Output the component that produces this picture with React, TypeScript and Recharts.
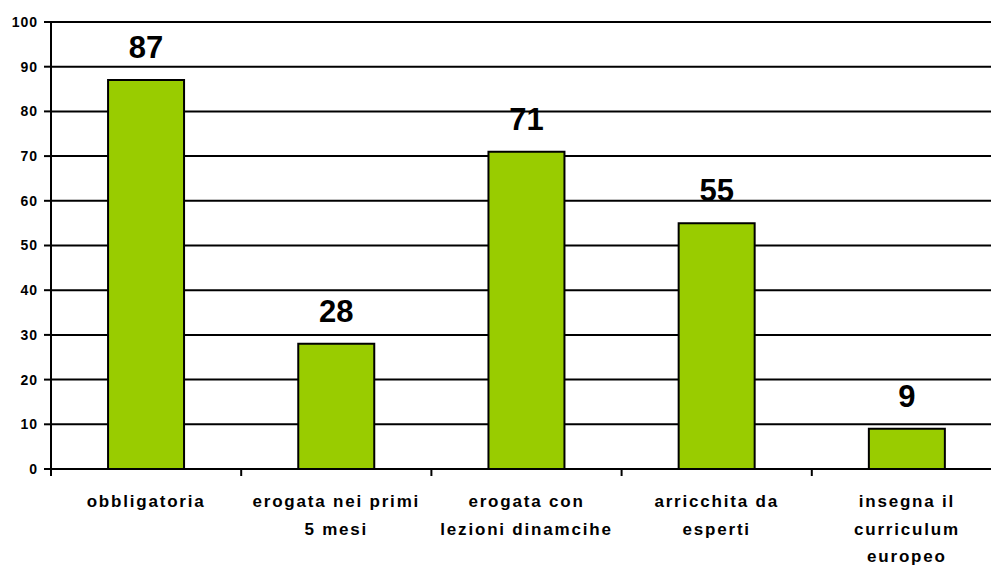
import { BarChart, Bar, XAxis, YAxis, CartesianGrid, LabelList } from "recharts";

const categories = [
  "obbligatoria",
  "erogata nei primi\n5 mesi",
  "erogata con\nlezioni dinamcihe",
  "arricchita da\nesperti",
  "insegna il\ncurriculum\neuropeo",
];
const values = [87, 28, 71, 55, 9];
const yTicks = [0, 10, 20, 30, 40, 50, 60, 70, 80, 90, 100];

const data = categories.map((name, i) => ({ name, value: values[i] }));

const W = 1010;
const H = 566;
const M = { top: 22, right: 8, left: 0, bottom: 0 };
const Y_W = 51;
const BAND = (W - M.left - M.right - Y_W) / categories.length;
const FONT = "'Liberation Sans', Arial, sans-serif";

// Excel-style category axis: tick marks sit between categories, not under them
function CatTick({ x, y, payload }: any) {
  const lines = String(payload.value).split("\n");
  return (
    <g>
      <line x1={x - BAND / 2} x2={x - BAND / 2} y1={y} y2={y + 7} stroke="#000" strokeWidth={2} />
      <text textAnchor="middle" fontFamily={FONT} fontSize={17} fontWeight="bold" letterSpacing={1.8} fill="#000">
        {lines.map((l, i) => (
          <tspan key={i} x={x} y={y + 38 + i * 27.5}>
            {l}
          </tspan>
        ))}
      </text>
    </g>
  );
}

export default function App() {
  return (
    <div style={{ position: "absolute", left: 0, top: 0, width: 991, height: 566, overflow: "hidden", background: "#fff" }}>
      <BarChart width={W} height={H} data={data} margin={M} barCategoryGap="30%">
        <CartesianGrid vertical={false} stroke="#000" strokeWidth={2} />
        <XAxis
          dataKey="name"
          interval={0}
          height={97}
          padding={{ left: 0, right: 0 }}
          axisLine={{ stroke: "#000", strokeWidth: 2 }}
          tickLine={false}
          tickSize={0}
          tickMargin={0}
          tick={<CatTick />}
        />
        <YAxis
          width={Y_W}
          domain={[0, 100]}
          ticks={yTicks}
          interval={0}
          axisLine={{ stroke: "#000", strokeWidth: 2 }}
          tickLine={{ stroke: "#000", strokeWidth: 2 }}
          tickSize={7}
          tickMargin={6}
          tick={{ fontSize: 14, fontWeight: "bold", fill: "#000", fontFamily: FONT, letterSpacing: 1 }}
        />
        <Bar dataKey="value" fill="#99CC00" stroke="#000" strokeWidth={2} isAnimationActive={false}>
          <LabelList
            dataKey="value"
            position="top"
            offset={22}
            style={{ fontSize: 31, fontWeight: "bold", fill: "#000", fontFamily: FONT }}
          />
        </Bar>
      </BarChart>
    </div>
  );
}
